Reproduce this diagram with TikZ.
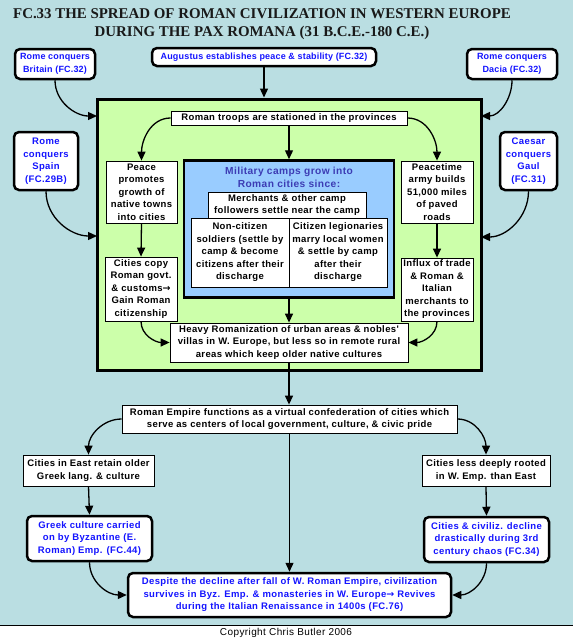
\documentclass[tikz,border=0pt]{standalone}
\usepackage{fontspec}
\setmainfont{Liberation Sans}
\newfontfamily\boxfont{Liberation Sans}[LetterSpace=4.0]
\newfontfamily\topfont{Liberation Sans}[LetterSpace=2.0]
\newfontfamily\titlefont{Liberation Serif}
\newfontfamily\arrowfont{DejaVu Sans}
\newcommand{\rarr}{{\arrowfont\bfseries →}}
\usetikzlibrary{arrows.meta}
\definecolor{bg}{RGB}{186,222,226}
\definecolor{greenbox}{RGB}{204,255,170}
\definecolor{bluebox}{RGB}{153,204,255}
\definecolor{reftext}{RGB}{20,20,255}
\definecolor{camptext}{RGB}{60,60,180}
\tikzset{
  plain/.style={draw, line width=0.8pt, fill=white, align=center, inner sep=1pt,
    font=\boxfont\bfseries\fontsize{9.5}{12.5}\selectfont},
  refbox/.style={draw, line width=2.5pt, rounded corners=5pt, fill=white, align=center, inner sep=1pt,
    text=reftext, font=\boxfont\bfseries\fontsize{9.5}{12.5}\selectfont},
  topref/.style={refbox, font=\topfont\bfseries\fontsize{9}{12.5}\selectfont},
  arr/.style={-{Triangle[length=9pt,width=8pt]}, line width=1.3pt},
}
\begin{document}
\begin{tikzpicture}[x=1pt,y=-1pt]
\useasboundingbox (0,0) rectangle (573,640);
\fill[bg] (0,0) rectangle (573,640);
\fill[white] (0,625) rectangle (573,640);
\draw[line width=0.8pt] (0,625) -- (573,625);
\node[font=\boxfont\fontsize{10}{12}\selectfont] (copy) at (286,633) {Copyright Chris Butler 2006};

\node[font=\titlefont\bfseries\fontsize{14.9}{18.5}\selectfont, align=center, text=black!90] (title) at (262,24)
  {FC.33 THE SPREAD OF ROMAN CIVILIZATION IN WESTERN EUROPE\\DURING THE PAX ROMANA (31 B.C.E.-180 C.E.)};

% green region
\node[draw, line width=3pt, fill=greenbox, minimum width=384pt, minimum height=271pt] (green) at (289,234.5) {};

% top reference boxes
\node[topref, minimum width=224pt, minimum height=18pt] (aug) at (264,57) {Augustus establishes peace \& stability (FC.32)};
\node[topref, minimum width=80pt, minimum height=30pt] (brit) at (55,64) {Rome conquers\\Britain (FC.32)};
\node[topref, minimum width=90pt, minimum height=30pt] (dacia) at (512,64) {Rome conquers\\Dacia (FC.32)};
\node[refbox, minimum width=64pt, minimum height=58pt] (spain) at (46,161) {Rome\\conquers\\Spain\\(FC.29B)};
\node[refbox, minimum width=57pt, minimum height=58pt] (gaul) at (528.5,161) {Caesar\\conquers\\Gaul\\(FC.31)};

% inside green
\node[plain, minimum width=236pt, minimum height=14pt] (troops) at (289,118) {Roman troops are stationed in the provinces};
\node[plain, minimum width=71pt, minimum height=62pt] (peace) at (141.5,192) {Peace\\promotes\\growth of\\native towns\\into cities};
\node[plain, minimum width=72pt, minimum height=64pt] (copyc) at (141,289) {Cities copy\\Roman govt.\\\& customs\rarr\\Gain Roman\\citizenship};
\node[plain, minimum width=72pt, minimum height=62pt] (peacetime) at (437,192) {Peacetime\\army builds\\51,000 miles\\of paved\\roads};
\node[plain, minimum width=72pt, minimum height=63pt] (influx) at (437,289.5) {Influx of trade\\\& Roman \&\\Italian\\merchants to\\the provinces};

\node[draw, line width=2.5pt, fill=bluebox, minimum width=210pt, minimum height=137pt] (camp) at (289,229) {};
\node[align=center, text=camptext, font=\boxfont\bfseries\fontsize{10.2}{12.5}\selectfont] (camptitle) at (289,177.5) {Military camps grow into\\Roman cities since:};
\node[plain, minimum width=158pt, minimum height=26pt] (merch) at (287,205) {Merchants \& other camp\\followers settle near the camp};
\node[plain, minimum width=98pt, minimum height=69pt] (noncit) at (240,252.5) {Non-citizen\\soldiers (settle by\\camp \& become\\citizens after their\\discharge};
\node[plain, minimum width=98pt, minimum height=69pt] (cit) at (338,252.5) {Citizen legionaries\\marry local women\\\& settle by camp\\after their\\discharge};

\node[plain, minimum width=238pt, minimum height=39pt] (heavy) at (289,342.5) {Heavy Romanization of urban areas \& nobles'\\villas in W. Europe, but less so in remote rural\\areas which keep older native cultures};

% lower part
\node[plain, minimum width=335pt, minimum height=28pt] (empire) at (289.5,419) {Roman Empire functions as a virtual confederation of cities which\\serve as centers of local government, culture, \& civic pride};
\node[plain, minimum width=131pt, minimum height=31pt] (east) at (88.5,470.5) {Cities in East retain older\\Greek lang. \& culture};
\node[refbox, minimum width=125pt, minimum height=45pt] (greek) at (89.5,538.5) {Greek culture carried\\on by Byzantine (E.\\Roman) Emp. (FC.44)};
\node[plain, minimum width=128pt, minimum height=31pt] (less) at (486,470.5) {Cities less deeply rooted\\in W. Emp. than East};
\node[refbox, minimum width=125pt, minimum height=45pt] (civ) at (486.5,539.5) {Cities \& civiliz. decline\\drastically during 3rd\\century chaos (FC.34)};
\node[refbox, minimum width=323pt, minimum height=44pt] (despite) at (289.5,595) {Despite the decline after fall of W. Roman Empire, civilization\\survives in Byz. Emp. \& monasteries in W. Europe\rarr{} Revives\\during the Italian Renaissance in 1400s (FC.76)};

% target coordinates on the green frame
\coordinate (gL1) at (97,116);
\coordinate (gR1) at (481,116);
\coordinate (gL2) at (97,236);
\coordinate (gR2) at (481,237);

% connectors
\draw[arr] (aug.south) -- (aug.south |- green.north);
\draw[arr] (brit.south) to[out=-90, in=180] (gL1);
\draw[arr] (dacia.south) to[out=-90, in=0] (gR1);
\draw[arr] (spain.south) to[out=-90, in=180] (gL2);
\draw[arr] (gaul.south) to[out=-90, in=0] (gR2);

\draw[arr] (troops.west) to[out=180, in=90] (peace.north);
\draw[arr] (troops.east) to[out=0, in=90] (peacetime.north);
\draw[arr] (troops.south) -- (camp.north);
\draw[arr] (peace.south) -- (copyc.north);
\draw[arr] (peacetime.south) -- (influx.north);
\draw[arr] (copyc.south) to[out=-90, in=180] (heavy.west);
\draw[arr] (influx.south) to[out=-90, in=0] (heavy.east);
\draw[arr] (camp.south) -- (heavy.north);
\draw[arr] (heavy.south) -- (heavy.south |- empire.north);

\draw[arr] (empire.west) to[out=180, in=90] (east.north);
\draw[arr] (empire.east) to[out=0, in=90] (less.north);
\draw[arr] (empire.south) -- (empire.south |- despite.north);
\draw[arr] (east.south) -- (greek.north);
\draw[arr] (less.south) -- (civ.north);
\draw[arr] (greek.south) to[out=-90, in=180] (despite.west);
\draw[arr] (civ.south) to[out=-90, in=0] (despite.east);
\end{tikzpicture}
\end{document}
